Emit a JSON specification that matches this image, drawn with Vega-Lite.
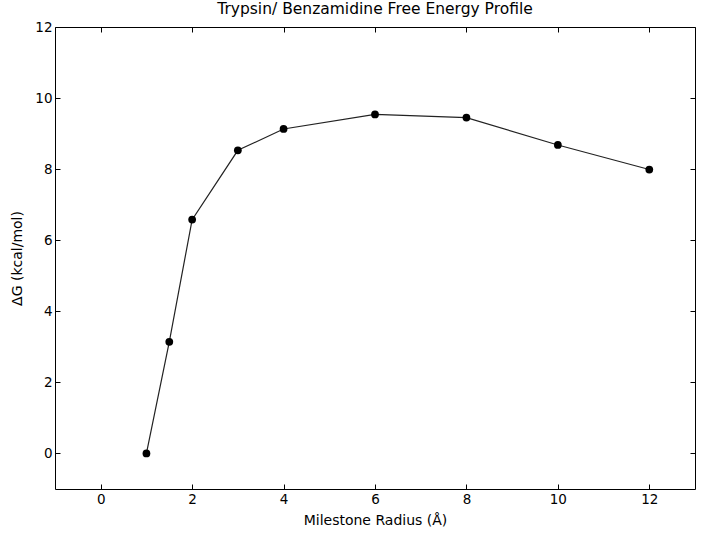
{
  "$schema": "https://vega.github.io/schema/vega-lite/v6.json",
  "autosize": "none",
  "width": 640,
  "height": 462,
  "padding": {"left": 55, "top": 27, "right": 9, "bottom": 55},
  "background": "white",
  "config": {
    "font": "DejaVu Sans",
    "view": {"stroke": "black", "strokeWidth": 1},
    "axis": {
      "grid": false,
      "domain": false,
      "tickColor": "black",
      "tickSize": -5,
      "labelColor": "black",
      "labelFont": "DejaVu Sans",
      "labelFontSize": 13.5,
      "titleFont": "DejaVu Sans",
      "titleFontSize": 14,
      "titleFontWeight": "normal",
      "titleColor": "black"
    }
  },
  "title": {
    "text": "Trypsin/ Benzamidine Free Energy Profile",
    "font": "DejaVu Sans",
    "fontSize": 15.5,
    "fontWeight": "normal",
    "color": "black",
    "offset": 3
  },
  "data": {
    "values": [
      {"r": 1, "g": 0.0},
      {"r": 1.5, "g": 3.14},
      {"r": 2, "g": 6.58},
      {"r": 3, "g": 8.53},
      {"r": 4, "g": 9.13},
      {"r": 6, "g": 9.54},
      {"r": 8, "g": 9.45},
      {"r": 10, "g": 8.68},
      {"r": 12, "g": 7.99}
    ]
  },
  "layer": [
    {
      "mark": {"type": "line", "color": "#222222", "strokeWidth": 1.2},
      "encoding": {
        "x": {
          "field": "r", "type": "quantitative",
          "scale": {"domain": [-1, 13], "nice": false, "zero": false},
          "axis": {"orient": "bottom", "values": [0, 2, 4, 6, 8, 10, 12], "labelPadding": 8, "title": "Milestone Radius (Å)", "titlePadding": 8}
        },
        "y": {
          "field": "g", "type": "quantitative",
          "scale": {"domain": [-1, 12], "nice": false, "zero": false},
          "axis": {"orient": "left", "values": [0, 2, 4, 6, 8, 10, 12], "labelPadding": 8, "title": "ΔG (kcal/mol)", "titlePadding": 10}
        }
      }
    },
    {
      "mark": {"type": "circle", "color": "black", "opacity": 1, "size": 60},
      "encoding": {
        "x": {"field": "r", "type": "quantitative", "axis": {"orient": "top", "values": [0, 2, 4, 6, 8, 10, 12], "labels": false, "title": null}},
        "y": {"field": "g", "type": "quantitative", "axis": {"orient": "right", "values": [0, 2, 4, 6, 8, 10, 12], "labels": false, "title": null}}
      }
    }
  ]
}
